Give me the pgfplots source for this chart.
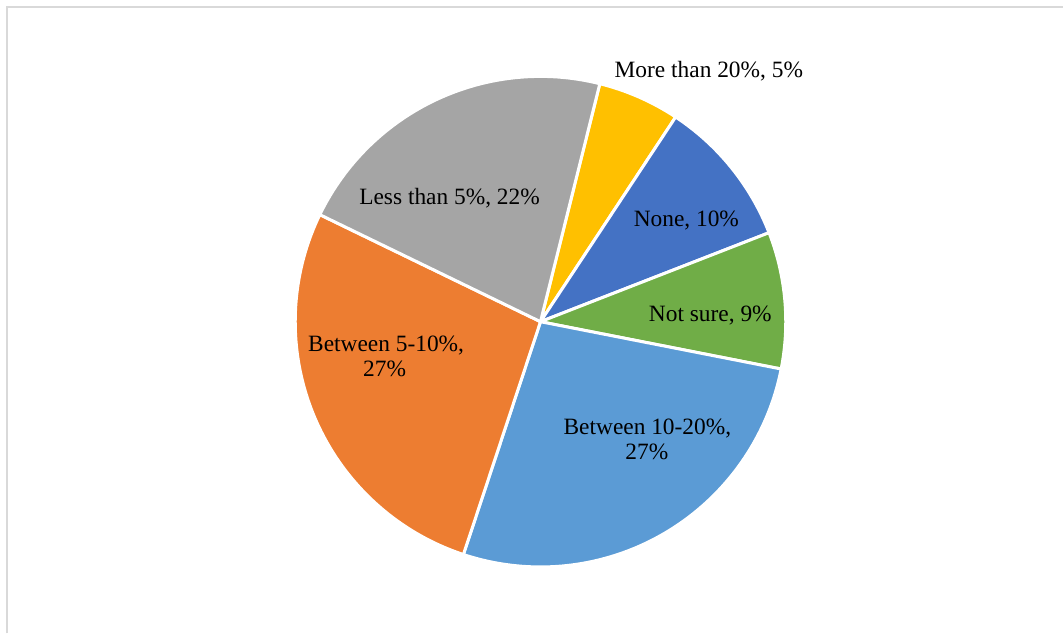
\documentclass[border=0pt]{standalone}
\usepackage{pgfplots}
\usepackage{pgfplotstable}
\pgfplotsset{compat=1.18}
\usepackage{fontspec}
\setmainfont{Liberation Serif}

\definecolor{c0}{HTML}{FFC000}
\definecolor{c1}{HTML}{4472C4}
\definecolor{c2}{HTML}{70AD47}
\definecolor{c3}{HTML}{5B9BD5}
\definecolor{c4}{HTML}{ED7D31}
\definecolor{c5}{HTML}{A5A5A5}
\definecolor{framegray}{HTML}{D9D9D9}

% share of each slice, clockwise from the first slice (percent)
\pgfplotstableread{
idx pct
0 5.4
1 9.8
2 9.0
3 27.0
4 27.1
5 21.7
}\piedata

% compute slice angles (start at 76 degrees, clockwise)
\xdef\cur{76}
\pgfplotsinvokeforeach{0,...,5}{%
  \pgfplotstablegetelem{#1}{pct}\of\piedata
  \pgfmathsetmacro\tmpa{\cur}%
  \pgfmathsetmacro\tmpb{\cur-3.6*\pgfplotsretval}%
  \expandafter\xdef\csname sliceA#1\endcsname{\tmpa}%
  \expandafter\xdef\csname sliceB#1\endcsname{\tmpb}%
  \xdef\cur{\tmpb}%
}

\begin{document}
\begin{tikzpicture}
\begin{axis}[
  width=1064pt, height=634pt, scale only axis,
  xmin=0, xmax=1064, ymin=0, ymax=634,
  hide axis, clip=false,
]
% full picture area
\path (axis cs:0,0) rectangle (axis cs:1064,634);
% chart frame
\draw[framegray, line width=2pt] (axis cs:7,0) -- (axis cs:7,626.5) -- (axis cs:1064,626.5);
% slices
\pgfplotsinvokeforeach{0,...,5}{%
  \fill[fill=c#1, draw=white, line width=3pt, line join=round]
    (axis cs:541,312) -- ++(\csname sliceA#1\endcsname:245.5pt)
    arc[start angle=\csname sliceA#1\endcsname, end angle=\csname sliceB#1\endcsname, radius=245.5pt] -- cycle;
}
% labels
\begin{scope}[every node/.style={font=\fontsize{23.4}{25.5}\selectfont, inner sep=0pt, anchor=base, text=black}]
\node at (axis cs:709.5,556) {More than 20\%, 5\%};
\node at (axis cs:687,407.3) {None, 10\%};
\node at (axis cs:711,312.3) {Not sure, 9\%};
\node at (axis cs:648,199) {Between 10-20\%,};
\node at (axis cs:647.5,174) {27\%};
\node at (axis cs:386.5,282.3) {Between 5-10\%,};
\node at (axis cs:385,256.7) {27\%};
\node at (axis cs:450,429.7) {Less than 5\%, 22\%};
\end{scope}
\end{axis}
\end{tikzpicture}
\end{document}
